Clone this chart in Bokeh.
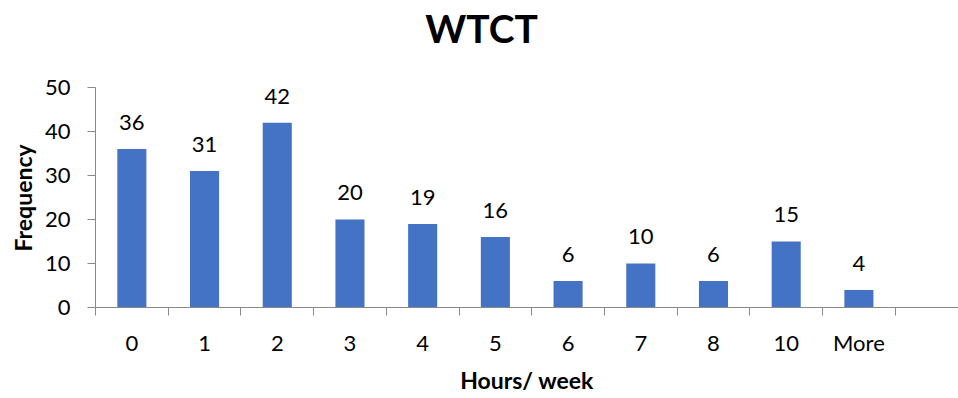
from bokeh.plotting import figure
from bokeh.models import Range1d, FixedTicker, ColumnDataSource, LabelSet, Label, Title
from bokeh.core.properties import value
from bokeh.embed import file_html
from bokeh.resources import INLINE

categories = ["0", "1", "2", "3", "4", "5", "6", "7", "8", "10", "More"]
frequency = [36, 31, 42, 20, 19, 16, 6, 10, 6, 15, 4]
y_ticks = [0, 10, 20, 30, 40, 50]
title_text = "WTCT"
x_title = "Hours/ week"
y_title = "Frequency"

n_slots = len(categories) + 1  # Excel histogram leaves one empty slot at the end
centers = [i + 0.5 for i in range(len(categories))]
boundaries = list(range(n_slots + 1))

FONT = "Lato"
AXIS_COLOR = "#898989"
BAR_COLOR = "#4472C4"
TEXT_COLOR = "#000000"

# frame extends to the top of the canvas so the title can live inside it;
# the y axis line itself is bounded to 0..50
p = figure(width=958, height=398, output_backend="svg", toolbar_location=None,
           x_range=Range1d(0, 11.87), y_range=Range1d(0, 69.77),
           min_border_left=95, min_border_right=0, min_border_top=0, min_border_bottom=91)
p.outline_line_color = None
p.grid.visible = False

src = ColumnDataSource(dict(x=centers, top=frequency, label=[str(v) for v in frequency]))
p.vbar(x="x", top="top", width=0.4, bottom=0, source=src, fill_color=BAR_COLOR, line_color=None)

labels = LabelSet(x="x", y="top", text="label", source=src, text_align="center",
                  text_baseline="alphabetic", y_offset=19, text_font=value(FONT),
                  text_font_size=value("22px"), text_color=TEXT_COLOR)
p.add_layout(labels)

title = Label(x=386, y=280, x_units="screen", y_units="screen", text=title_text,
              text_align="center", text_baseline="alphabetic", text_font=FONT,
              text_font_size="39px", text_font_style="bold", text_color=TEXT_COLOR)
p.add_layout(title)

# y axis title as a side-panel title so it can be centred on the 0..50 span
ytitle = Title(text=y_title, align="left", offset=56, standoff=10,
               text_font=FONT, text_font_size="23px", text_font_style="bold",
               text_color=TEXT_COLOR)
p.add_layout(ytitle, "left")

# x axis
xa = p.xaxis[0]
xa.ticker = FixedTicker(ticks=centers, minor_ticks=boundaries)
xa.major_label_overrides = {c: lab for c, lab in zip(centers, categories)}
xa.major_tick_out = 0
xa.major_tick_in = 0
xa.minor_tick_out = 8
xa.minor_tick_in = 0
xa.minor_tick_line_color = AXIS_COLOR
xa.axis_line_color = AXIS_COLOR
xa.major_label_text_font = FONT
xa.major_label_text_font_size = "22px"
xa.major_label_text_color = TEXT_COLOR
xa.major_label_standoff = 13
xa.axis_label = x_title
xa.axis_label_text_font = FONT
xa.axis_label_text_font_size = "23px"
xa.axis_label_text_font_style = "bold"
xa.axis_label_text_color = TEXT_COLOR
xa.axis_label_standoff = 7

# y axis
ya = p.yaxis[0]
ya.ticker = FixedTicker(ticks=y_ticks, minor_ticks=[])
ya.bounds = (0, 50)
ya.major_tick_out = 8
ya.major_tick_in = 0
ya.major_tick_line_color = AXIS_COLOR
ya.axis_line_color = AXIS_COLOR
ya.minor_tick_out = 0
ya.major_label_text_font = FONT
ya.major_label_text_font_size = "22px"
ya.major_label_text_color = TEXT_COLOR
ya.major_label_standoff = 17

open("out.html", "w").write(file_html(p, INLINE))
